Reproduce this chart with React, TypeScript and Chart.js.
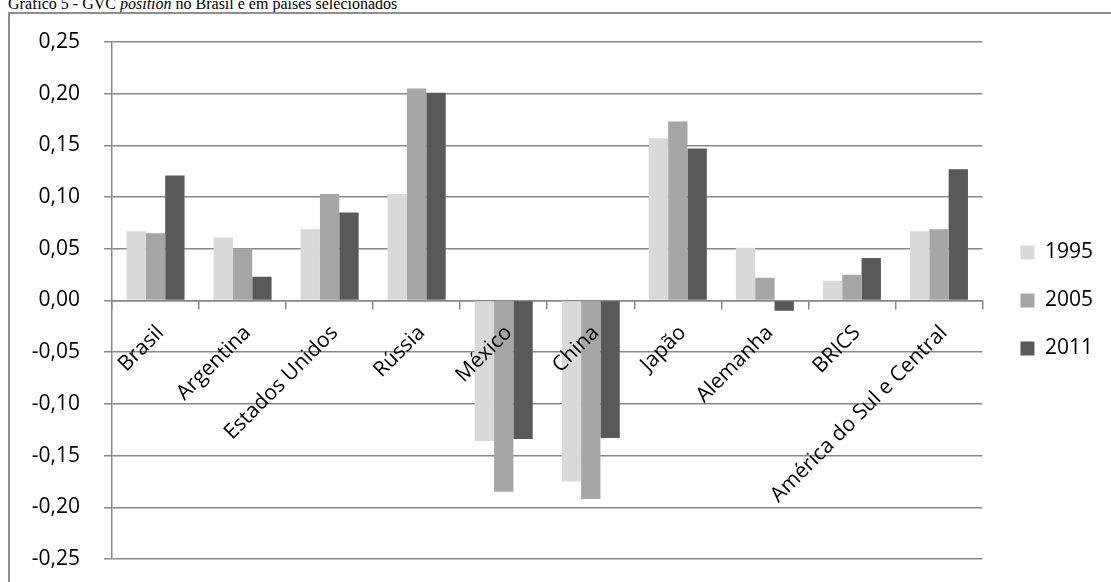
import React, { useEffect, useRef } from "react";
import { Chart, registerables } from "chart.js";

Chart.register(...registerables);

const categories = [
  "Brasil",
  "Argentina",
  "Estados Unidos",
  "Rússia",
  "México",
  "China",
  "Japão",
  "Alemanha",
  "BRICS",
  "América do Sul e Central",
];

const series1995 = [0.067, 0.061, 0.069, 0.103, -0.136, -0.175, 0.157, 0.051, 0.019, 0.067];
const series2005 = [0.065, 0.05, 0.103, 0.205, -0.185, -0.192, 0.173, 0.022, 0.025, 0.069];
const series2011 = [0.121, 0.023, 0.085, 0.201, -0.134, -0.133, 0.147, -0.01, 0.041, 0.127];

const seriesLabels = ["1995", "2005", "2011"];
const seriesColors = ["#d9d9d9", "#a6a6a6", "#595959"];

const yMin = -0.25;
const yMax = 0.25;
const yStep = 0.05;

const titlePlain = "Gráfico 5 - GVC ";
const titleItalic = "position";
const titleRest = " no Brasil e em países selecionados";

const GRID = "#888888";
const FONT = "'Open Sans', 'Noto Sans', sans-serif";

export default function App() {
  const canvasRef = useRef<HTMLCanvasElement | null>(null);

  useEffect(() => {
    if (!canvasRef.current) return;
    const values = [series1995, series2005, series2011];
    const chart = new Chart(canvasRef.current, {
      type: "bar",
      data: {
        labels: categories,
        datasets: values.map((v, i) => ({
          label: seriesLabels[i],
          data: v,
          backgroundColor: seriesColors[i],
          borderWidth: 0,
          categoryPercentage: 3 / 4.5,
          barPercentage: 1,
          yAxisID: "y",
        })),
      },
      options: {
        animation: false,
        responsive: true,
        maintainAspectRatio: false,
        layout: { padding: { top: 28, bottom: 23, left: 0, right: 8 } },
        plugins: {
          title: { display: false },
          tooltip: { enabled: false },
          legend: {
            display: true,
            position: "right",
            align: "center",
            labels: {
              boxWidth: 14,
              boxHeight: 14,
              padding: 27,
              color: "#000",
              font: { family: FONT, size: 21 },
            },
          },
        },
        scales: {
          x: {
            position: { y: 0 } as any,
            grid: {
              display: true,
              drawOnChartArea: false,
              drawTicks: true,
              tickLength: 8,
              color: GRID,
              lineWidth: 1.5,
            },
            border: { display: true, color: GRID, width: 1.5 },
            ticks: {
              z: 1,
              autoSkip: false,
              minRotation: 45,
              maxRotation: 45,
              padding: 12,
              labelOffset: 5,
              color: "#000",
              font: { family: FONT, size: 21 },
            },
            afterFit: (s: any) => {
              s.height = 0;
            },
          },
          y: {
            position: "left",
            min: yMin,
            max: yMax,
            grid: {
              display: true,
              drawTicks: true,
              tickLength: 8,
              color: GRID,
              lineWidth: 1.5,
            },
            border: { display: true, color: GRID, width: 1.5 },
            ticks: {
              stepSize: yStep,
              padding: 24,
              color: "#000",
              font: { family: FONT, size: 21 },
              callback: (v: any) => {
                const n = Math.abs(Number(v)) < 1e-9 ? 0 : Number(v);
                return n.toFixed(2).replace(".", ",");
              },
            },
            afterFit: (s: any) => {
              s.width = 102;
              s.paddingTop = 0;
              s.paddingBottom = 0;
            },
          },
          yR: {
            type: "linear",
            position: "right",
            display: true,
            grid: { display: false },
            border: { display: false },
            ticks: { display: false },
            afterFit: (s: any) => {
              s.width = 11;
              s.paddingTop = 0;
              s.paddingBottom = 0;
            },
          },
        },
      },
    });
    return () => chart.destroy();
  }, []);

  return (
    <div
      style={{
        position: "fixed",
        left: 0,
        top: 0,
        width: 1111,
        height: 582,
        background: "#fff",
        overflow: "hidden",
      }}
    >
      <div
        style={{
          position: "absolute",
          left: 8,
          top: -4,
          fontFamily: "'Liberation Serif', 'Times New Roman', serif",
          fontSize: 16,
          lineHeight: "16px",
          whiteSpace: "nowrap",
          color: "#000",
        }}
      >
        {titlePlain}
        <i>{titleItalic}</i>
        {titleRest}
      </div>
      <div
        style={{
          position: "absolute",
          left: 8,
          top: 12,
          width: 1120,
          height: 600,
          border: "2px solid #8e8e8e",
          boxSizing: "border-box",
        }}
      />
      <div
        style={{
          position: "absolute",
          left: 10,
          top: 14,
          width: 1101,
          height: 568,
        }}
      >
        <canvas ref={canvasRef} />
      </div>
    </div>
  );
}
